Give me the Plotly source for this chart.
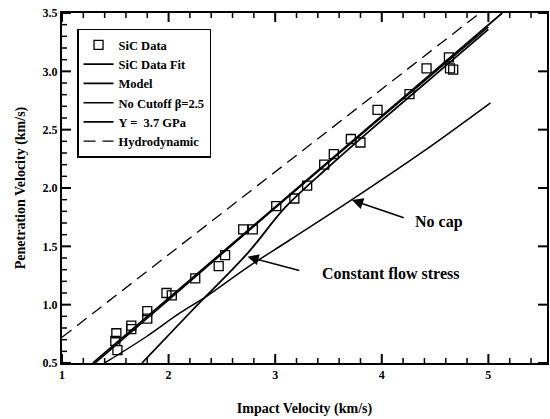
import numpy as np
import plotly.graph_objects as go

# SiC data points
data_x = [1.50, 1.51, 1.52, 1.65, 1.65, 1.80, 1.80, 1.98, 2.03, 2.25, 2.47, 2.53, 2.70, 2.79,
          3.01, 3.18, 3.30, 3.46, 3.55, 3.71, 3.80, 3.96, 4.26, 4.42, 4.63, 4.64, 4.67]
data_y = [0.69, 0.755, 0.61, 0.82, 0.79, 0.945, 0.88, 1.10, 1.08, 1.225, 1.33, 1.425, 1.645, 1.645,
          1.845, 1.91, 2.02, 2.20, 2.29, 2.42, 2.39, 2.67, 2.805, 3.025, 3.12, 3.025, 3.015]

# SiC data fit
fit_x = [1.29, 5.13]
fit_y = [0.50, 3.50]

# Model
model_x = [1.31, 2.0, 3.0, 4.0, 5.0]
model_y = [0.50, 1.04, 1.83, 2.61, 3.38]

# No cutoff beta=2.5 ("No cap")
nocap_x = [1.40, 1.79, 2.10, 2.37, 2.74, 3.13, 3.72, 4.40, 5.02]
nocap_y = [0.50, 0.725, 0.925, 1.08, 1.32, 1.55, 1.90, 2.32, 2.73]

# Y = 3.7 GPa ("Constant flow stress")
flow_x = [1.75, 2.22, 2.74, 3.10, 3.50, 4.00, 4.50, 5.00]
flow_y = [0.50, 0.95, 1.44, 1.84, 2.18, 2.58, 2.97, 3.36]

# Hydrodynamic
hydro_x = [1.0, 4.92]
hydro_y = [0.72, 3.50]

x_ticks = [1, 2, 3, 4, 5]
y_ticks = [0.5, 1.0, 1.5, 2.0, 2.5, 3.0, 3.5]
x_minor_step = 0.2
y_minor_step = 0.1
x_range = [1, 5.55]
y_range = [0.5, 3.5]

FONT = "Liberation Serif"
W, H = 550, 419
M = dict(l=62, r=1, t=13, b=56)
PLOT_W = W - M["l"] - M["r"]
PLOT_H = H - M["t"] - M["b"]

fig = go.Figure()
fig.add_trace(go.Scatter(x=data_x, y=data_y, mode="markers", name="<b>SiC Data</b>",
                         marker=dict(symbol="square-open", size=9, color="black",
                                     line=dict(width=1.3, color="black"))))
fig.add_trace(go.Scatter(x=fit_x, y=fit_y, mode="lines", name="<b>SiC Data Fit</b>",
                         line=dict(color="black", width=1.8)))
fig.add_trace(go.Scatter(x=model_x, y=model_y, mode="lines", name="<b>Model</b>",
                         line=dict(color="black", width=1.6, shape="spline")))
fig.add_trace(go.Scatter(x=nocap_x, y=nocap_y, mode="lines", name="<b>No Cutoff β=2.5</b>",
                         line=dict(color="black", width=1.5, shape="spline")))
fig.add_trace(go.Scatter(x=flow_x, y=flow_y, mode="lines", name="<b>Y =  3.7 GPa</b>",
                         line=dict(color="black", width=1.8, shape="spline")))
fig.add_trace(go.Scatter(x=hydro_x, y=hydro_y, mode="lines", name="<b>Hydrodynamic</b>",
                         line=dict(color="black", width=1.3, dash="12px,7px")))

# inward tick marks as line traces built from the tick lists (lengths given in pixels)
MAJOR_PX, MINOR_PX = 9, 5
dy_per_px = (y_range[1] - y_range[0]) / PLOT_H
dx_per_px = (x_range[1] - x_range[0]) / PLOT_W
x_all = np.round(np.arange(x_range[0], x_range[1] + 1e-9, x_minor_step), 6)
y_all = np.round(np.arange(y_range[0], y_range[1] + 1e-9, y_minor_step), 6)

def tick_segments(major):
    xs, ys = [], []
    for xv in x_all:
        is_major = any(abs(xv - t) < 1e-6 for t in x_ticks)
        if is_major != major:
            continue
        ln = (MAJOR_PX if major else MINOR_PX) * dy_per_px
        xs += [xv, xv, None, xv, xv, None]
        ys += [y_range[0], y_range[0] + ln, None, y_range[1], y_range[1] - ln, None]
    for yv in y_all:
        is_major = any(abs(yv - t) < 1e-6 for t in y_ticks)
        if is_major != major:
            continue
        ln = (MAJOR_PX if major else MINOR_PX) * dx_per_px
        xs += [x_range[0], x_range[0] + ln, None]
        ys += [yv, yv, None]
        if major:
            xs += [x_range[1], x_range[1] - ln, None]
            ys += [yv, yv, None]
    return xs, ys

for major, width in ((True, 2), (False, 1.5)):
    tx, ty = tick_segments(major)
    fig.add_trace(go.Scatter(x=tx, y=ty, mode="lines", showlegend=False, hoverinfo="skip",
                             line=dict(color="black", width=width)))

# annotations
fig.add_annotation(x=3.72, y=1.897, ax=4.22, ay=1.74, xref="x", yref="y", axref="x", ayref="y",
                   text="", showarrow=True, arrowhead=2, arrowsize=1.4, arrowwidth=1.6,
                   arrowcolor="black", standoff=0)
fig.add_annotation(x=4.54, y=1.71, xref="x", yref="y", text="<b>No cap</b>", showarrow=False,
                   font=dict(family=FONT, size=16, color="black"))
fig.add_annotation(x=2.74, y=1.41, ax=3.24, ay=1.29, xref="x", yref="y", axref="x", ayref="y",
                   text="", showarrow=True, arrowhead=2, arrowsize=1.4, arrowwidth=1.6,
                   arrowcolor="black", standoff=0)
fig.add_annotation(x=4.08, y=1.27, xref="x", yref="y", text="<b>Constant flow stress</b>",
                   showarrow=False, font=dict(family=FONT, size=16, color="black"))

tickfont = dict(family=FONT, size=12, color="black", weight="bold")

fig.update_xaxes(range=x_range, tickmode="linear", tick0=x_ticks[0],
                 dtick=x_ticks[1] - x_ticks[0], tickformat="d",
                 showline=True, linecolor="black", linewidth=2, mirror=True,
                 ticks="", showgrid=False, zeroline=False, tickfont=tickfont,
                 title=dict(text="<b>Impact Velocity (km/s)</b>", standoff=22,
                            font=dict(family=FONT, size=14, color="black")))
fig.update_yaxes(range=y_range, tickmode="linear", tick0=y_ticks[0],
                 dtick=y_ticks[1] - y_ticks[0], tickformat=".1f",
                 showline=True, linecolor="black", linewidth=2, mirror=True,
                 ticks="", showgrid=False, zeroline=False, tickfont=tickfont,
                 title=dict(text="<b>Penetration Velocity (km/s)</b>", standoff=14,
                            font=dict(family=FONT, size=14, color="black")))

fig.update_layout(
    width=W, height=H,
    margin=M,
    plot_bgcolor="white", paper_bgcolor="white",
    showlegend=True,
    legend=dict(x=0.031, y=0.955, xanchor="left", yanchor="top",
                bgcolor="white", bordercolor="black", borderwidth=1.5,
                font=dict(family=FONT, size=12.5, color="black"),
                itemwidth=30, tracegroupgap=0),
    font=dict(family=FONT, color="black"),
)

fig.write_html("out.html")
